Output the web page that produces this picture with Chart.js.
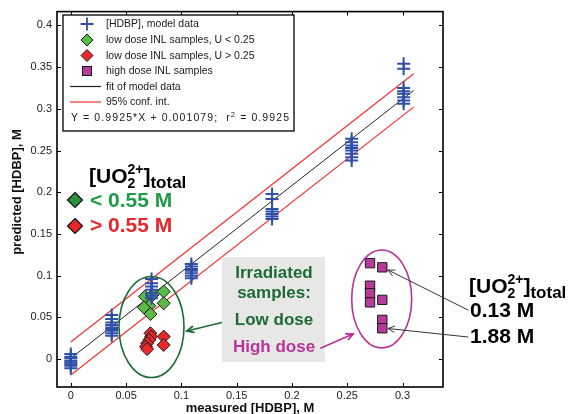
<!DOCTYPE html>
<html><head><meta charset="utf-8">
<script src="https://cdn.jsdelivr.net/npm/chart.js@4"></script>
<style>html,body{margin:0;padding:0;background:#fff;overflow:hidden}#wrap{width:573px;height:414px;position:relative}</style>
</head><body><div id="wrap"><canvas id="c" width="573" height="414"></canvas></div>
<script>
// ---------- data ----------
const xTicks = [0, 0.05, 0.1, 0.15, 0.2, 0.25, 0.3];
const xTickLabels = ['0', '0.05', '0.1', '0.15', '0.2', '0.25', '0.3'];
const yTicks = [0, 0.05, 0.1, 0.15, 0.2, 0.25, 0.3, 0.35, 0.4];
const yTickLabels = ['0', '0.05', '0.1', '0.15', '0.2', '0.25', '0.3', '0.35', '0.4'];

const modelX = [0, 0, 0, 0, 0, 0, 0, 0,
  0.037, 0.037, 0.037, 0.037, 0.037, 0.037, 0.037, 0.037, 0.037,
  0.073, 0.073, 0.073, 0.073, 0.073, 0.073, 0.073,
  0.109, 0.109, 0.109, 0.109, 0.109, 0.109, 0.109,
  0.182, 0.182, 0.182, 0.182, 0.182, 0.182, 0.182,
  0.254, 0.254, 0.254, 0.254, 0.254, 0.254, 0.254, 0.254,
  0.301, 0.301, 0.301, 0.301, 0.301, 0.301, 0.301, 0.301];
const modelY = [0.006, 0.003, 0.001, -0.002, -0.004, -0.006, -0.008, -0.011,
  0.053, 0.048, 0.044, 0.041, 0.038, 0.036, 0.034, 0.031, 0.028,
  0.096, 0.091, 0.087, 0.083, 0.079, 0.076, 0.073,
  0.114, 0.111, 0.108, 0.106, 0.103, 0.100, 0.097,
  0.198, 0.192, 0.180, 0.177, 0.174, 0.171, 0.168,
  0.264, 0.260, 0.256, 0.253, 0.250, 0.246, 0.242, 0.238,
  0.354, 0.348, 0.325, 0.321, 0.318, 0.314, 0.310, 0.306];

const lowUx = [0.067, 0.074, 0.071, 0.066, 0.072, 0.084, 0.084];
const lowUy = [0.075, 0.077, 0.064, 0.062, 0.054, 0.081, 0.067];
const highUx = [0.072, 0.0725, 0.071, 0.069, 0.068, 0.069, 0.084, 0.084];
const highUy = [0.031, 0.027, 0.023, 0.019, 0.015, 0.012, 0.027, 0.017];
const highDoseX = [0.2706, 0.2817, 0.2706, 0.2706, 0.2706, 0.2817, 0.2817, 0.2817];
const highDoseY = [0.115, 0.110, 0.088, 0.079, 0.068, 0.071, 0.047, 0.037];

const fitX = [0, 0.31];
const fitY = [0.001, 0.322];
const ciUpperY = [0.0205, 0.342];
const ciLowerY = [-0.019, 0.302];

const legendLabels = ['[HDBP], model data', 'low dose INL samples, U < 0.25', 'low dose INL samples, U > 0.25',
  'high dose INL samples', 'fit of model data', '95% conf. int.'];
const fitText = ['Y = 0.9925*X + 0.001079;  r', '2', ' = 0.9925'];

// ---------- styling ----------
const F = '"Liberation Sans", Arial, Helvetica, sans-serif';
const BLUE = '#3050a8', GREEN = '#58bb46', RED = '#e8282b', MAG = '#b53c98';
const DKGREEN = '#1d6a35', TXTGREEN = '#1f9a47', TXTRED = '#e8252b', TXTMAG = '#b8349a';

const pts = (xs, ys) => xs.map((x, i) => ({x, y: ys[i]}));

function arrow(ctx, x1, y1, x2, y2, color, lw, hl) {
  ctx.save(); ctx.strokeStyle = color; ctx.lineWidth = lw; ctx.lineCap = 'round';
  ctx.beginPath(); ctx.moveTo(x1, y1); ctx.lineTo(x2, y2); ctx.stroke();
  const a = Math.atan2(y2 - y1, x2 - x1), h = hl || 7, s = 0.45;
  ctx.beginPath();
  ctx.moveTo(x2 - h * Math.cos(a - s), y2 - h * Math.sin(a - s));
  ctx.lineTo(x2, y2);
  ctx.lineTo(x2 - h * Math.cos(a + s), y2 - h * Math.sin(a + s));
  ctx.stroke(); ctx.restore();
}
function rich(ctx, x, y, parts) {
  let cx = x, lastStart = x, lastW = 0;
  for (const p of parts) {
    ctx.font = 'bold ' + p.s + 'px ' + F; ctx.fillStyle = p.c || '#000';
    const w = ctx.measureText(p.t).width;
    if (p.stack) { ctx.fillText(p.t, lastStart, y + (p.dy || 0)); cx = lastStart + Math.max(lastW, w); lastW = Math.max(lastW, w); }
    else { ctx.fillText(p.t, cx, y + (p.dy || 0)); lastStart = cx; lastW = w; cx += w; }
  }
}
function uo2(ctx, x, y) {
  rich(ctx, x, y, [{t: '[UO', s: 21}, {t: '2', s: 14, dy: 5}, {t: '2+', s: 14, dy: -9, stack: true}, {t: ']', s: 21}, {t: 'total', s: 17, dy: 5}]);
}
function diamond(ctx, x, y, r, fill, stroke, lw) {
  ctx.beginPath(); ctx.moveTo(x, y - r); ctx.lineTo(x + r, y); ctx.lineTo(x, y + r); ctx.lineTo(x - r, y); ctx.closePath();
  ctx.fillStyle = fill; ctx.fill(); ctx.strokeStyle = stroke; ctx.lineWidth = lw; ctx.stroke();
}

const decor = {
  id: 'decor',
  afterDatasetsDraw(chart) {
    const ctx = chart.ctx, a = chart.chartArea, xs = chart.scales.x, ys = chart.scales.y;
    ctx.save();
    ctx.strokeStyle = '#000'; ctx.lineWidth = 1;
    ctx.beginPath();
    xTicks.forEach(v => { const p = Math.round(xs.getPixelForValue(v)) + 0.5; ctx.moveTo(p, a.bottom); ctx.lineTo(p, a.bottom - 4); ctx.moveTo(p, a.top); ctx.lineTo(p, a.top + 4); });
    yTicks.forEach(v => { const p = Math.round(ys.getPixelForValue(v)) + 0.5; ctx.moveTo(a.left, p); ctx.lineTo(a.left + 4, p); ctx.moveTo(a.right, p); ctx.lineTo(a.right - 4, p); });
    ctx.stroke();
    ctx.lineWidth = 1.6; ctx.strokeRect(a.left, a.top, a.right - a.left, a.bottom - a.top);

    // legend box
    const L = 63, T = 15, R = 294, B = 131;
    ctx.fillStyle = '#fff'; ctx.fillRect(L, T, R - L, B - T);
    ctx.strokeStyle = '#000'; ctx.lineWidth = 1.3; ctx.strokeRect(L, T, R - L, B - T);
    const rows = [24, 40, 55.5, 71, 86.5, 102, 118];
    const sx = 87, tx = 106;
    ctx.strokeStyle = BLUE; ctx.lineWidth = 1.8;
    ctx.beginPath(); ctx.moveTo(sx - 6.5, rows[0]); ctx.lineTo(sx + 6.5, rows[0]); ctx.moveTo(sx, rows[0] - 6.5); ctx.lineTo(sx, rows[0] + 6.5); ctx.stroke();
    diamond(ctx, sx, rows[1], 6, GREEN, '#1a1a1a', 1);
    diamond(ctx, sx, rows[2], 6, RED, '#1a1a1a', 1);
    ctx.fillStyle = MAG; ctx.fillRect(sx - 4.5, rows[3] - 4.5, 9, 9); ctx.strokeStyle = '#1a1a1a'; ctx.lineWidth = 1; ctx.strokeRect(sx - 4.5, rows[3] - 4.5, 9, 9);
    ctx.strokeStyle = '#222'; ctx.lineWidth = 1.2; ctx.beginPath(); ctx.moveTo(70, rows[4]); ctx.lineTo(101, rows[4]); ctx.stroke();
    ctx.strokeStyle = '#f03030'; ctx.beginPath(); ctx.moveTo(70, rows[5]); ctx.lineTo(101, rows[5]); ctx.stroke();
    ctx.fillStyle = '#1a1a1a'; ctx.font = '10.5px ' + F; ctx.textBaseline = 'middle';
    legendLabels.forEach((t, i) => ctx.fillText(t, tx, rows[i] + 0.5));
    {
      const x0 = 71, x1 = 289, y = rows[6] + 0.5;
      const chars = [];
      fitText.forEach((seg, k) => { for (const ch of seg) chars.push({ch, sup: k === 1}); });
      let nat = 0;
      chars.forEach(c => { ctx.font = (c.sup ? '7.5px ' : '10.5px ') + F; c.w = ctx.measureText(c.ch).width; nat += c.w; });
      const extra = (x1 - x0 - nat) / (chars.length - 1);
      let cx = x0;
      chars.forEach(c => { ctx.font = (c.sup ? '7.5px ' : '10.5px ') + F; ctx.fillText(c.ch, cx, y + (c.sup ? -4 : 0)); cx += c.w + extra; });
    }
    ctx.textBaseline = 'alphabetic';

    // left annotation
    uo2(ctx, 89, 183);
    diamond(ctx, 75, 200, 7.5, '#2f8f3f', '#111', 1.2);
    diamond(ctx, 75, 226, 7.5, '#e4262a', '#111', 1.2);
    ctx.font = 'bold 21px ' + F;
    ctx.fillStyle = TXTGREEN; ctx.fillText('< 0.55 M', 90, 207);
    ctx.fillStyle = TXTRED; ctx.fillText('> 0.55 M', 90, 232);

    ctx.strokeStyle = DKGREEN; ctx.lineWidth = 1.6;
    ctx.beginPath(); ctx.ellipse(151.5, 327, 32.5, 50.5, 0, 0, Math.PI * 2); ctx.stroke();
    arrow(ctx, 232, 320, 187, 331, DKGREEN, 1.8, 7);

    // grey box
    ctx.fillStyle = '#e7e7e5'; ctx.fillRect(222, 257, 103, 105);
    ctx.textAlign = 'center'; ctx.font = 'bold 17px ' + F;
    ctx.fillStyle = DKGREEN;
    ctx.fillText('Irradiated', 274, 278);
    ctx.fillText('samples:', 274, 298);
    ctx.fillText('Low dose', 274, 325);
    ctx.fillStyle = TXTMAG; ctx.fillText('High dose', 274, 352);
    ctx.textAlign = 'left';

    ctx.strokeStyle = '#b8349a'; ctx.lineWidth = 1.6;
    ctx.beginPath(); ctx.ellipse(381.7, 299, 30, 49, 0, 0, Math.PI * 2); ctx.stroke();
    arrow(ctx, 321, 348, 353, 334, '#b8349a', 1.8, 7);

    // right annotation
    uo2(ctx, 469, 293);
    ctx.font = 'bold 21px ' + F; ctx.fillStyle = '#000';
    ctx.fillText('0.13 M', 470, 317);
    ctx.fillText('1.88 M', 470, 343);
    arrow(ctx, 468, 310, 388, 270, '#333', 1, 7);
    arrow(ctx, 468, 337, 388, 328.5, '#333', 1, 7);

    // y axis title
    ctx.save(); ctx.translate(17, 192); ctx.rotate(-Math.PI / 2);
    ctx.font = 'bold 13px ' + F; ctx.fillStyle = '#111'; ctx.textAlign = 'center'; ctx.textBaseline = 'middle';
    ctx.fillText('predicted [HDBP], M', 0, 0); ctx.restore();
    ctx.restore();
  }
};

new Chart(document.getElementById('c'), {
  type: 'scatter',
  data: {
    datasets: [
      {label: legendLabels[0], data: pts(modelX, modelY), pointStyle: 'cross', pointRadius: 6.5, pointHoverRadius: 6.5,
        borderColor: BLUE, backgroundColor: BLUE, borderWidth: 2, order: 1},
      {label: legendLabels[1], data: pts(lowUx, lowUy), pointStyle: 'rectRot', pointRadius: 6.5,
        backgroundColor: GREEN, borderColor: '#1a1a1a', borderWidth: 1, order: 2},
      {label: legendLabels[2], data: pts(highUx, highUy), pointStyle: 'rectRot', pointRadius: 6.5,
        backgroundColor: RED, borderColor: '#1a1a1a', borderWidth: 1, order: 3},
      {label: legendLabels[3], data: pts(highDoseX, highDoseY), pointStyle: 'rect', pointRadius: 6.6,
        backgroundColor: MAG, borderColor: '#1a1a1a', borderWidth: 1, order: 4},
      {label: legendLabels[4], data: pts(fitX, fitY), showLine: true, pointRadius: 0, borderColor: '#222', borderWidth: 1, order: 10},
      {label: 'upper', data: pts(fitX, ciUpperY), showLine: true, pointRadius: 0, borderColor: '#f03030', borderWidth: 1.2, order: 11},
      {label: 'lower', data: pts(fitX, ciLowerY), showLine: true, pointRadius: 0, borderColor: '#f03030', borderWidth: 1.2, order: 12}
    ]
  },
  options: {
    responsive: false, animation: false, events: [],
    layout: {padding: {left: 0, right: 130, top: 10, bottom: 0}},
    plugins: {legend: {display: false}, tooltip: {enabled: false}},
    scales: {
      x: {
        type: 'linear', min: -0.0125, max: 0.3366,
        grid: {display: false, drawTicks: false}, border: {display: false},
        afterBuildTicks: s => { s.ticks = xTicks.map(v => ({value: v})); },
        afterFit: s => { s.height = 27; },
        ticks: {padding: 2, color: '#222', font: {family: F, size: 11}, maxRotation: 0,
          callback: (v, i) => xTickLabels[i]},
        title: {display: true, text: 'measured [HDBP], M', color: '#111', font: {family: F, size: 13, weight: 'bold'}, padding: {top: 0, bottom: -2}}
      },
      y: {
        type: 'linear', min: -0.0334, max: 0.4165,
        grid: {display: false, drawTicks: false}, border: {display: false},
        afterBuildTicks: s => { s.ticks = yTicks.map(v => ({value: v})); },
        afterFit: s => { s.width = 57; },
        ticks: {padding: 5, color: '#222', font: {family: F, size: 11},
          callback: (v, i) => yTickLabels[i]}
      }
    }
  },
  plugins: [decor]
});
</script></body></html>
